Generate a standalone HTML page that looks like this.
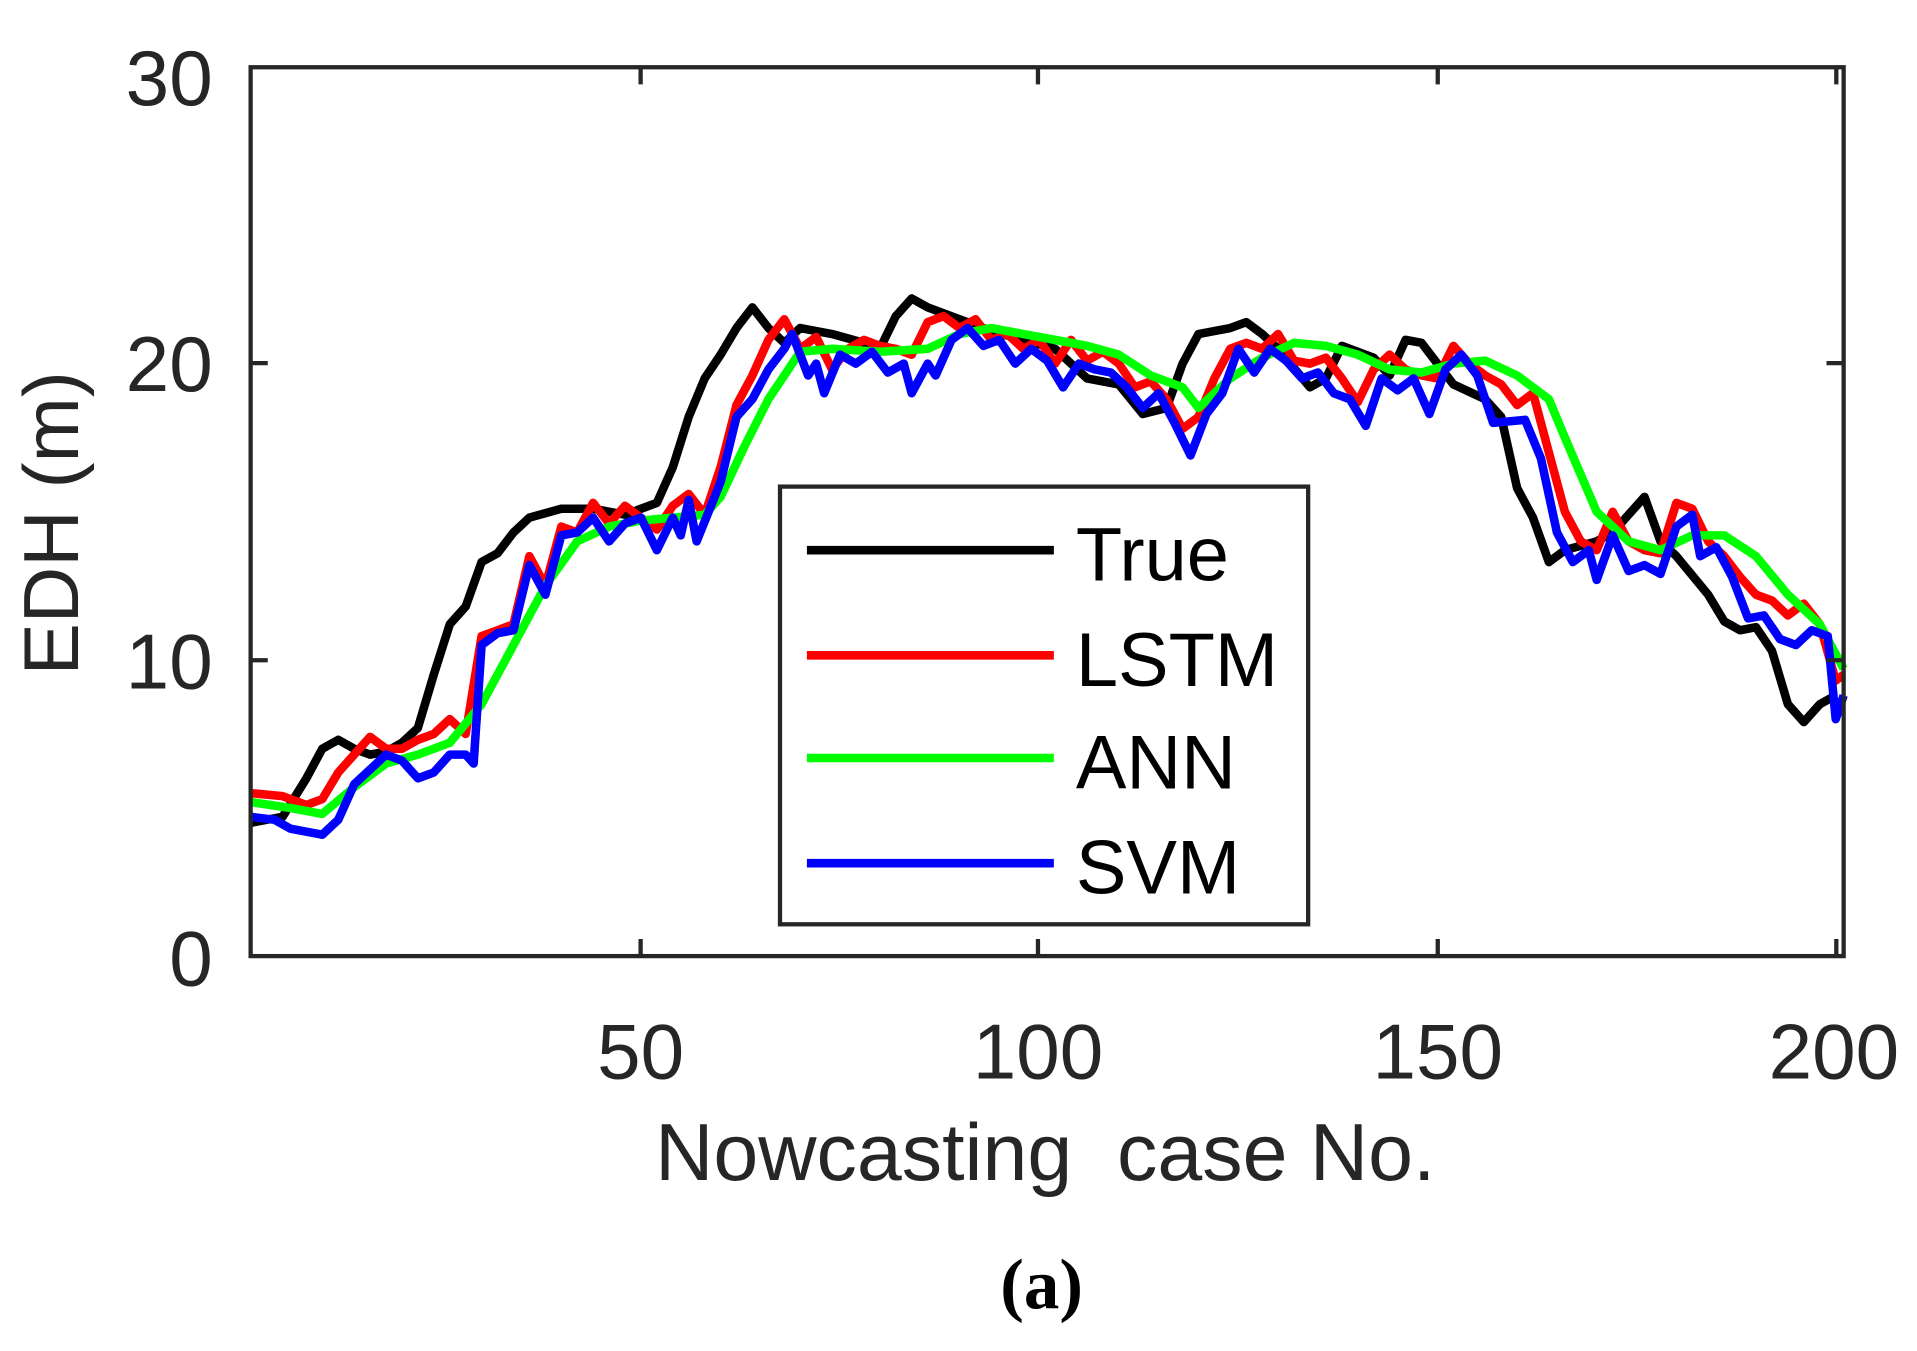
<!DOCTYPE html>
<html><head><meta charset="utf-8"><style>
html,body{margin:0;padding:0;background:#fff;}
svg{display:block;}
</style></head><body>
<svg id="s" width="1917" height="1351" viewBox="0 0 1568 1105" preserveAspectRatio="none" xmlns="http://www.w3.org/2000/svg">
<rect width="1568" height="1105" fill="#fff"/>
<g id="series" fill="none" stroke-width="7" stroke-linejoin="round"></g>
<g stroke="#262626" stroke-width="3.5" fill="none">
<rect x="205" y="55" width="1303" height="727"/>
<path d="M524 782v-14M849 782v-14M1176 782v-14M1502 782v-14M524 55v14M849 55v14M1176 55v14M1502 55v14M205 540h14M205 297h14M1508 540h-14M1508 297h-14"/>
</g>
<g font-family="Liberation Sans, sans-serif" font-size="64" fill="#262626">
<text x="174" y="86" text-anchor="end">30</text>
<text x="174" y="320" text-anchor="end">20</text>
<text x="174" y="563" text-anchor="end">10</text>
<text x="174" y="806" text-anchor="end">0</text>
<text x="524" y="882" text-anchor="middle">50</text>
<text x="849" y="882" text-anchor="middle">100</text>
<text x="1176" y="882" text-anchor="middle">150</text>
<text x="1500" y="882" text-anchor="middle">200</text>
<text x="855" y="965" text-anchor="middle" font-size="66" xml:space="preserve">Nowcasting  case No.</text>
<text transform="translate(64,428) rotate(-90)" text-anchor="middle" font-size="64">EDH (m)</text>
</g>
<rect x="638" y="398" width="432" height="358" fill="#fff" stroke="#262626" stroke-width="3.5"/>
<g stroke-width="7">
<line x1="660" y1="450" x2="862" y2="450" stroke="#000"/>
<line x1="660" y1="536" x2="862" y2="536" stroke="#f00"/>
<line x1="660" y1="620" x2="862" y2="620" stroke="#0f0"/>
<line x1="660" y1="706" x2="862" y2="706" stroke="#00f"/>
</g>
<g font-family="Liberation Sans, sans-serif" font-size="62" fill="#000">
<text x="880" y="475">True</text>
<text x="880" y="561">LSTM</text>
<text x="880" y="645">ANN</text>
<text x="880" y="731">SVM</text>
</g>
<text x="852" y="1070" text-anchor="middle" font-family="Liberation Serif, serif" font-weight="bold" font-size="58" fill="#000">(a)</text>
</svg>
<script>
var D={
"#0f0":[[1,5.2],[6,5],[10,4.8],[14,5.7],[18,6.5],[22,6.8],[26,7.2],[30,8.5],[34,10.5],[38,12.5],[42,14],[46,14.5],[50,14.7],[54,14.8],[58,14.9],[60,15.5],[63,17.2],[66,18.8],[70,20.4],[74,20.5],[80,20.4],[86,20.5],[90,21],[94,21.2],[98,21],[102,20.8],[106,20.6],[110,20.3],[114,19.6],[118,19.2],[120,18.5],[124,19.5],[128,20.2],[132,20.7],[136,20.6],[140,20.3],[144,19.8],[148,19.7],[152,20],[156,20.1],[160,19.6],[164,18.8],[166,17.5],[170,15],[174,14],[178,13.7],[182,14.2],[186,14.2],[190,13.5],[194,12.2],[198,11.2],[201,9.7]],
"#000":[[1,4.5],[5,4.7],[8,6],[10,7],[12,7.3],[14,7],[16,6.8],[18,6.9],[20,7.2],[22,7.7],[24,9.5],[26,11.2],[28,11.8],[30,13.3],[32,13.6],[34,14.3],[36,14.8],[40,15.1],[44,15.1],[48,14.9],[52,15.3],[54,16.5],[56,18.2],[58,19.5],[60,20.3],[62,21.2],[64,21.9],[66,21.2],[68,20.7],[70,21.2],[74,21],[78,20.7],[80,20.5],[82,21.6],[84,22.2],[86,21.9],[90,21.5],[94,21.1],[98,20.8],[102,20.5],[106,19.5],[110,19.3],[113,18.3],[116,18.5],[118,20],[120,21],[124,21.2],[126,21.4],[128,21],[130,20.5],[134,19.2],[136,19.5],[138,20.6],[142,20.2],[144,19.6],[146,20.8],[148,20.7],[150,20],[152,19.3],[156,18.8],[158,18.2],[160,15.8],[162,14.8],[164,13.3],[166,13.7],[170,14],[172,14.3],[176,15.5],[178,14],[180,13.5],[184,12.2],[186,11.3],[188,11],[190,11.1],[192,10.3],[194,8.5],[196,7.9],[198,8.5],[200,8.8]],
"#f00":[[1,5.5],[5,5.4],[8,5.1],[10,5.3],[12,6.2],[14,6.8],[16,7.4],[18,7],[20,7],[22,7.3],[24,7.5],[26,8],[28,7.5],[30,10.8],[32,11],[34,11.2],[36,13.5],[38,12.5],[40,14.5],[42,14.3],[44,15.3],[46,14.6],[48,15.2],[50,14.8],[52,14.4],[54,15.2],[56,15.6],[58,14.9],[60,16.5],[62,18.6],[64,19.6],[66,20.8],[68,21.5],[70,20.5],[72,20.9],[74,19.8],[76,20.5],[78,20.8],[80,20.6],[82,20.5],[84,20.3],[86,21.4],[88,21.6],[90,21.2],[92,21.5],[94,20.8],[96,21],[98,20.5],[100,20.8],[102,20],[104,20.8],[106,20.1],[108,20.4],[110,20],[112,19.2],[114,19.4],[116,18.8],[118,17.8],[120,18.2],[122,19.5],[124,20.5],[126,20.7],[128,20.5],[130,21],[132,20.1],[134,20],[136,20.2],[138,19.5],[140,18.7],[142,19.8],[144,20.3],[146,19.8],[148,19.6],[150,19.5],[152,20.6],[154,20],[156,19.6],[158,19.3],[160,18.6],[162,19],[164,17],[166,15],[168,14],[170,13.7],[172,15],[174,14],[176,13.7],[178,13.6],[180,15.3],[182,15.1],[184,14],[186,13.5],[188,12.8],[190,12.2],[192,12],[194,11.5],[196,11.9],[198,11.2],[200,9.3],[201,9.5]],
"#00f":[[1,4.7],[4,4.6],[6,4.3],[10,4.1],[12,4.6],[14,5.8],[16,6.3],[18,6.8],[20,6.6],[22,6],[24,6.2],[26,6.8],[28,6.8],[29,6.5],[30,10.5],[32,10.9],[34,11],[36,13.2],[38,12.2],[40,14.2],[42,14.3],[44,14.8],[46,14],[48,14.6],[50,14.8],[52,13.7],[54,14.8],[55,14.2],[56,15.4],[57,14],[60,16],[62,18.2],[64,18.8],[66,19.8],[68,20.5],[69,21],[71,19.6],[72,20],[73,19],[75,20.3],[77,20],[79,20.4],[81,19.7],[83,20],[84,19],[86,20],[87,19.6],[89,20.8],[91,21.2],[93,20.6],[95,20.8],[97,20],[99,20.5],[101,20.1],[103,19.2],[105,20],[107,19.8],[109,19.7],[111,19.2],[113,18.5],[115,19],[117,18],[119,16.9],[121,18.3],[123,19],[125,20.5],[127,19.7],[129,20.5],[131,20.1],[133,19.5],[135,19.7],[137,19],[139,18.8],[141,17.9],[143,19.5],[145,19.1],[147,19.5],[149,18.3],[151,19.8],[153,20.3],[155,19.6],[157,18],[161,18.1],[163,16.8],[165,14.3],[167,13.3],[169,13.7],[170,12.7],[172,14.2],[174,13],[176,13.2],[178,12.9],[180,14.5],[182,14.9],[183,13.5],[185,13.8],[187,12.8],[189,11.4],[191,11.5],[193,10.7],[195,10.5],[197,11],[199,10.8],[200,8],[201,8.8]]
};
var g=document.getElementById("series"),h="";
["#000","#f00","#0f0","#00f"].forEach(function(c){
var p=D[c].map(function(q,i){return (i?"L":"M")+(205+(q[0]-1)*6.515).toFixed(1)+" "+(782-q[1]*24.23).toFixed(1);}).join("");
h+='<path d="'+p+'" stroke="'+c+'"/>';});
g.innerHTML=h;
</script>
</body></html>
